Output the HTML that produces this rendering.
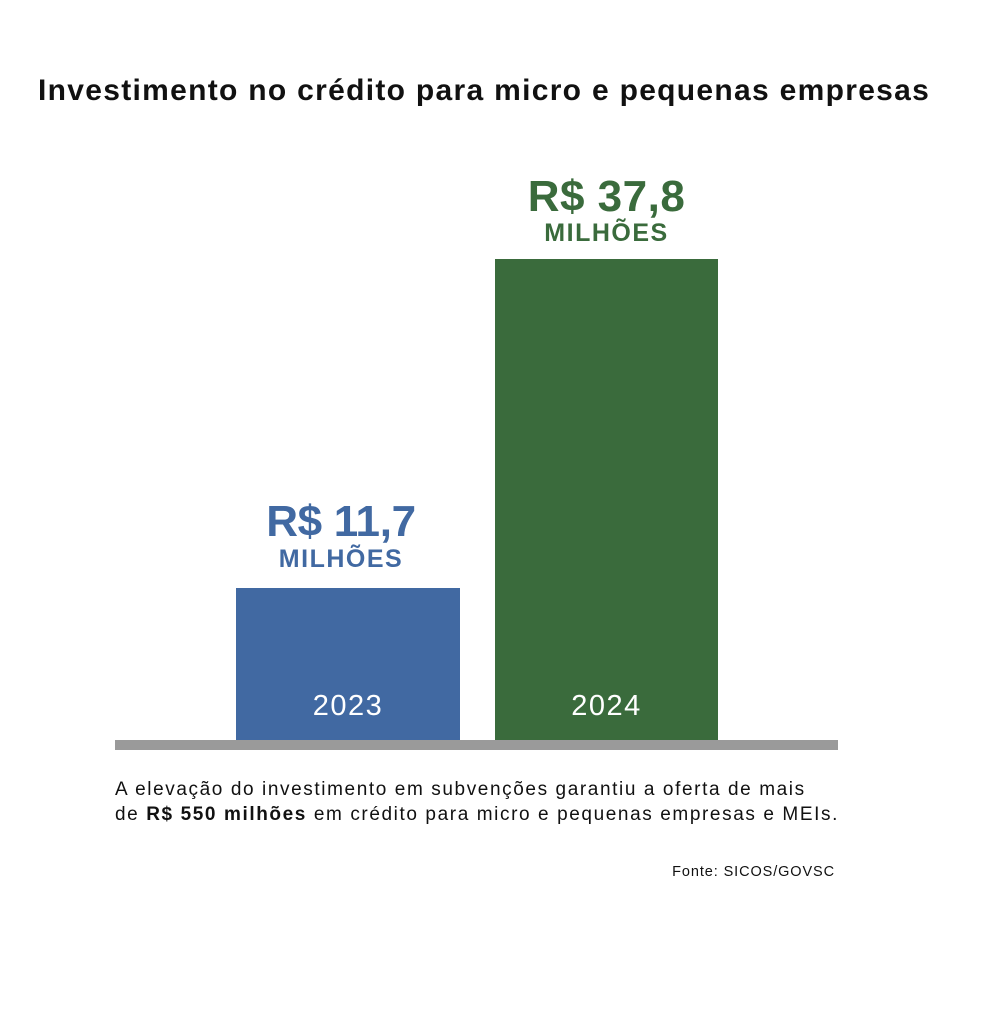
<!DOCTYPE html>
<html><head><meta charset="utf-8"><style>
body{margin:0;width:991px;height:1024px;background:#fff;position:relative;font-family:"Liberation Sans",sans-serif;overflow:hidden}
.a{position:absolute;white-space:nowrap}
</style></head><body>
<div class="a" style="left:38px;top:74px;font-size:30px;font-weight:bold;color:#111;letter-spacing:1.3px">Investimento no crédito para micro e pequenas empresas</div>

<div class="a" style="left:236px;top:588px;width:224px;height:154px;background:#4169a2"></div>
<div class="a" style="left:495px;top:259px;width:223px;height:483px;background:#3a6b3c"></div>
<div class="a" style="left:115px;top:740px;width:723px;height:10px;background:#9a9a9a"></div>

<div class="a" style="left:236px;width:224px;text-align:center;top:690px;font-size:29px;color:#fff;letter-spacing:1.5px">2023</div>
<div class="a" style="left:495px;width:223px;text-align:center;top:690px;font-size:29px;color:#fff;letter-spacing:1.5px">2024</div>

<div class="a" style="left:229px;width:224px;text-align:center;top:497px;font-size:44px;font-weight:bold;color:#4169a2;letter-spacing:-0.3px">R$ 11,7</div>
<div class="a" style="left:229px;width:224px;text-align:center;top:545px;font-size:25px;font-weight:bold;color:#4169a2;letter-spacing:1.5px">MILHÕES</div>
<div class="a" style="left:495px;width:223px;text-align:center;top:172px;font-size:44px;font-weight:bold;color:#3a6b3c;letter-spacing:0.5px">R$ 37,8</div>
<div class="a" style="left:495px;width:223px;text-align:center;top:219px;font-size:25px;font-weight:bold;color:#3a6b3c;letter-spacing:1.5px">MILHÕES</div>

<div class="a" style="left:115px;top:777px;font-size:19px;color:#111;line-height:25px;letter-spacing:1.6px">A elevação do investimento em subvenções garantiu a oferta de mais<br>de <b>R$ 550 milhões</b> em crédito para micro e pequenas empresas e MEIs.</div>
<div class="a" style="right:156px;top:864px;font-size:14.5px;color:#111;letter-spacing:0.9px">Fonte: SICOS/GOVSC</div>
</body></html>
